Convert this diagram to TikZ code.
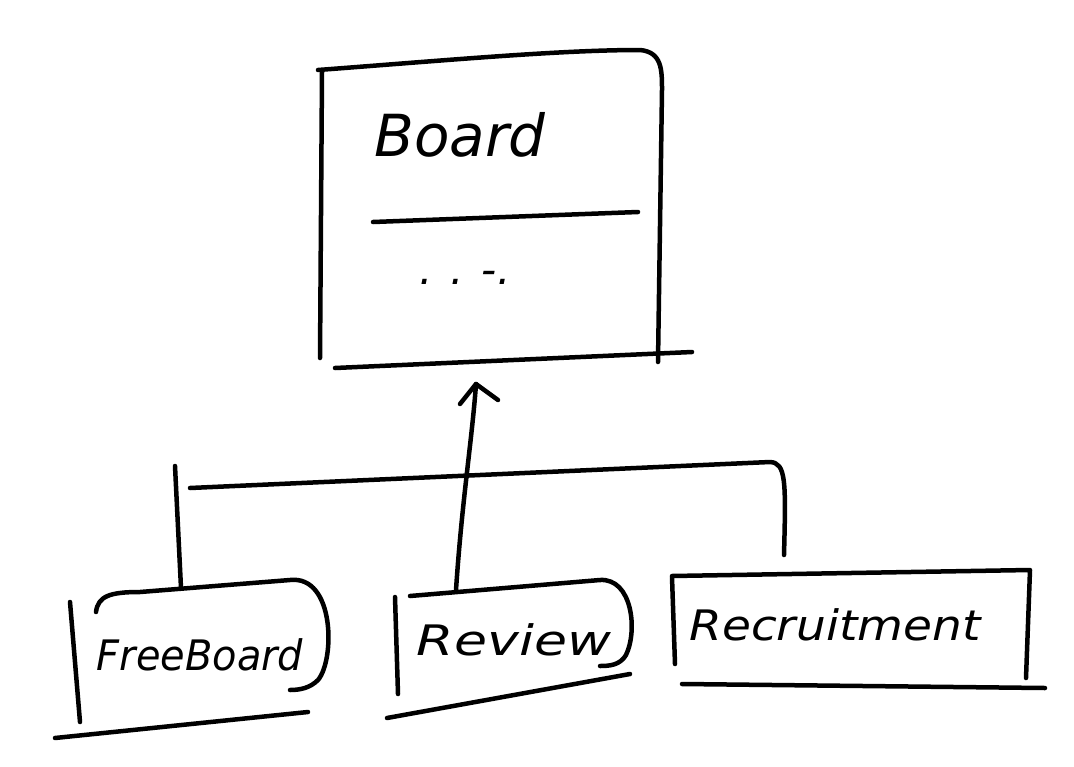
\documentclass[tikz,border=0pt]{standalone}
\usepackage{fontspec}
\setmainfont{DejaVu Sans}
\begin{document}
\begin{tikzpicture}[x=1pt,y=-1pt,
  pen/.style={line width=4.5pt,line cap=round,line join=round,black},
  hand/.style={font=\fontsize{58}{62}\selectfont\itshape,inner sep=0pt},
  handsm/.style={font=\fontsize{42}{46}\selectfont\itshape,inner sep=0pt}]
\useasboundingbox (0,0) rectangle (1074,766);
% Board box
\draw[pen] (322,72) -- (320,358);
\draw[pen] (318,70) .. controls (450,60) and (560,50) .. (640,50) .. controls (662,52) and (662,70) .. (662,90) -- (658,362);
\draw[pen] (335,368) -- (692,352);
\draw[pen] (373,222) -- (638,212);
\node[hand] (board) at (460,135) {Board};
\node[handsm] (dots) at (465,278) {. . -.};
% connector lines
\coordinate (bar1) at (190,488);
\coordinate (bar2) at (770,462);
\coordinate (barend) at (784,555);
\draw[pen] (bar1) -- (bar2) .. controls (786,463) and (786,480) .. (barend);
\draw[pen] (175,466) -- (181,588);
% FreeBoard box
\draw[pen] (70,602) -- (80,722);
\draw[pen] (96,612) .. controls (98,596) and (110,592) .. (140,592) -- (290,580) .. controls (335,575) and (335,660) .. (318,680) .. controls (310,688) and (300,690) .. (290,690);
\draw[pen] (55,738) -- (308,712);
\node[handsm,xscale=0.95] (free) at (200,655) {FreeBoard};
% Review box
\draw[pen] (395,597) -- (398,694);
\draw[pen] (410,596) -- (600,580) .. controls (632,578) and (638,630) .. (626,655) .. controls (620,665) and (610,666) .. (600,666);
\draw[pen] (387,718) -- (630,674);
\node[handsm,xscale=1.28] (review) at (514,640) {Review};
% Recruitment box
\draw[pen] (672,577) -- (675,664);
\draw[pen] (672,576) -- (1030,570) -- (1026,678);
\draw[pen] (682,684) -- (1045,688);
\node[handsm,xscale=1.12] (recruit) at (835,625) {Recruitment};
% arrow
\coordinate (tip) at (476,384);
\draw[pen] (456,590) .. controls (462,500) and (472,440) .. (tip);
\draw[pen] (460,404) -- (tip) -- (498,400);
\end{tikzpicture}
\end{document}
